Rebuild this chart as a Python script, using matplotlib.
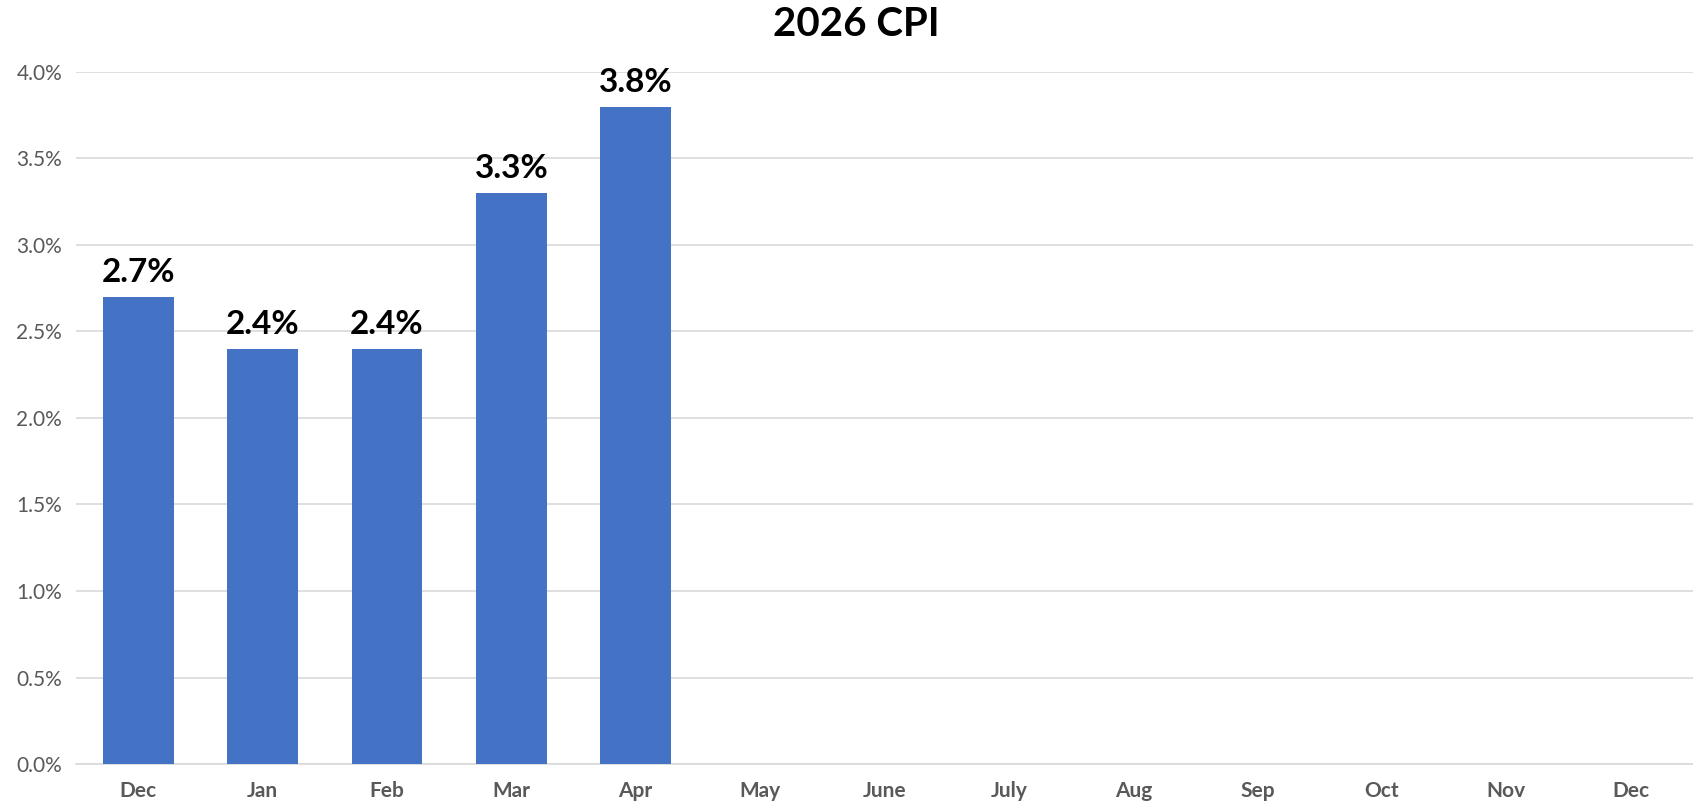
import matplotlib.pyplot as plt
from matplotlib.ticker import PercentFormatter

# Данные графика
months = ["Dec", "Jan", "Feb", "Mar", "Apr", "May", "June", "July",
          "Aug", "Sep", "Oct", "Nov", "Dec"]
cpi = [2.7, 2.4, 2.4, 3.3, 3.8]  # известные значения, остальные месяцы пустые
yticks = [0.0, 0.5, 1.0, 1.5, 2.0, 2.5, 3.0, 3.5, 4.0]

plt.rcParams['font.family'] = ['Lato', 'DejaVu Sans']

fig = plt.figure(figsize=(16.93, 8.09), dpi=100)
ax = fig.add_axes([76 / 1693, 1 - 764 / 809, 1 - 76 / 1693, (764 - 72) / 809])

x = list(range(len(months)))
bars = ax.bar(x[:len(cpi)], cpi, width=0.57, color="#4472C4", zorder=3)

# Подписи значений над столбцами
for rect, v in zip(bars, cpi):
    ax.annotate(f"{v:.1f}%", (rect.get_x() + rect.get_width() / 2, v),
                xytext=(0, 7), textcoords="offset points",
                ha="center", va="bottom", fontsize=24, fontweight="bold",
                color="black")

ax.set_xlim(-0.5, len(months) - 0.5)
ax.set_ylim(0, 4.0)
ax.set_yticks(yticks)
ax.yaxis.set_major_formatter(PercentFormatter(decimals=1))
ax.set_xticks(x)
ax.set_xticklabels(months, fontweight="bold", fontsize=15)

ax.grid(axis="y", color="#D9D9D9", linewidth=1.2, zorder=0)
for s in ["top", "right", "left"]:
    ax.spines[s].set_visible(False)
ax.spines["bottom"].set_color("#D9D9D9")
ax.spines["bottom"].set_linewidth(1.2)
ax.tick_params(axis="both", length=0, colors="#595959")
ax.tick_params(axis="y", labelsize=15, pad=10)
ax.tick_params(axis="x", pad=12)

fig.text(856 / 1693, 1 - 24 / 809, "2026 CPI", ha="center", va="center",
         fontsize=29, fontweight="bold", color="black")

fig.savefig("out.png", dpi=100)
